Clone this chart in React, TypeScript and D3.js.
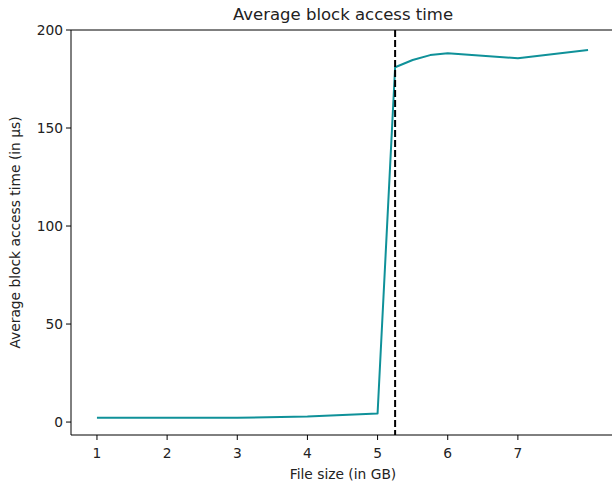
import React from 'react';
import * as d3 from 'd3';

// file size (GB) and measured average access time (µs)
const fileSizes = [1, 2, 3, 4, 5, 5.25, 5.5, 5.75, 6, 7, 8];
const accessTimes = [2.2, 2.2, 2.2, 2.8, 4.4, 181, 184.7, 187.2, 188.1, 185.6, 189.8];
const xTicks = [1, 2, 3, 4, 5, 6, 7];
const yTicks = [0, 50, 100, 150, 200];
const cacheLimit = 5.25;

const width = 612;
const height = 486;
const margin = { top: 30, right: -2, bottom: 51, left: 71 };
const font = 'DejaVu Sans, sans-serif';
const lineColor = '#0f9199';

export default function App() {
  const innerW = width - margin.left - margin.right;
  const innerH = height - margin.top - margin.bottom;

  const xScale = d3.scaleLinear().domain([0.63, 8.37]).range([0, innerW]);
  const yScale = d3.scaleLinear().domain([-6.6, 200]).range([innerH, 0]);

  const points = fileSizes.map((x, i) => ({ x, y: accessTimes[i] }));
  const line = d3
    .line<{ x: number; y: number }>()
    .x(d => xScale(d.x))
    .y(d => yScale(d.y));

  return (
    <svg
      width={width}
      height={height}
      style={{ position: 'absolute', left: 0, top: 0, background: '#fff' }}
    >
      <g transform={`translate(${margin.left},${margin.top})`}>
        {/* spines (right one falls outside the picture) */}
        <line x1={0} x2={0} y1={0} y2={innerH} stroke="#000" strokeWidth={1} />
        <line x1={0} x2={innerW} y1={innerH} y2={innerH} stroke="#000" strokeWidth={1} />
        <line x1={0} x2={innerW} y1={0} y2={0} stroke="#000" strokeWidth={1} />

        {yTicks.map(t => (
          <g key={`y${t}`} transform={`translate(0,${yScale(t)})`}>
            <line x1={-5} x2={0} stroke="#000" strokeWidth={1} />
            <text
              x={-8}
              dy="0.35em"
              textAnchor="end"
              fontFamily={font}
              fontSize={13.8}
              fill="#222"
            >
              {t}
            </text>
          </g>
        ))}

        {xTicks.map(t => (
          <g key={`x${t}`} transform={`translate(${xScale(t)},${innerH})`}>
            <line y1={0} y2={5} stroke="#000" strokeWidth={1} />
            <text
              y={23}
              textAnchor="middle"
              fontFamily={font}
              fontSize={13.8}
              fill="#222"
            >
              {t}
            </text>
          </g>
        ))}

        <path
          d={line(points) || ''}
          fill="none"
          stroke={lineColor}
          strokeWidth={2}
          strokeLinejoin="round"
        />

        <line
          x1={xScale(cacheLimit)}
          x2={xScale(cacheLimit)}
          y1={0}
          y2={innerH}
          stroke="#000"
          strokeWidth={2}
          strokeDasharray="7,3"
        />
      </g>

      <text
        x={343}
        y={20}
        textAnchor="middle"
        fontFamily={font}
        fontSize={16.5}
        fill="#222"
      >
        Average block access time
      </text>
      <text
        x={343}
        y={479}
        textAnchor="middle"
        fontFamily={font}
        fontSize={13.8}
        fill="#222"
      >
        File size (in GB)
      </text>
      <text
        transform={`translate(20,${margin.top + (height - margin.top - margin.bottom) / 2}) rotate(-90)`}
        textAnchor="middle"
        fontFamily={font}
        fontSize={13.8}
        fill="#222"
      >
        Average block access time (in µs)
      </text>
    </svg>
  );
}
